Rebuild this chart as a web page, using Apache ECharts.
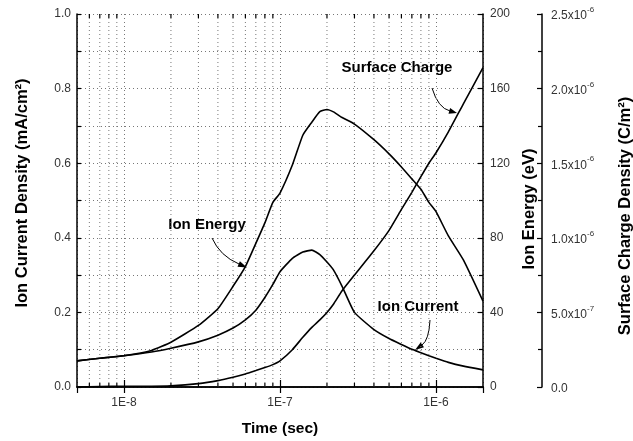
<!DOCTYPE html>
<html>
<head>
<meta charset="utf-8">
<script src="https://cdn.jsdelivr.net/npm/echarts@6/dist/echarts.min.js"></script>
<style>html,body{margin:0;padding:0;background:#fff}#c{width:633px;height:441px}</style>
</head>
<body>
<div id="c"></div>
<script>
// time points (s)
var times = [5e-9, 7e-9, 1e-8, 1.5e-8, 2e-8, 3e-8, 4e-8, 5e-8, 6e-8, 7e-8, 8e-8, 9e-8,
  1e-7, 1.2e-7, 1.4e-7, 1.6e-7, 1.8e-7, 2e-7, 2.2e-7, 2.5e-7, 3e-7, 4e-7, 5e-7, 6e-7,
  7e-7, 8e-7, 9e-7, 1e-6, 1.2e-6, 1.5e-6, 2e-6];
// Ion current density (mA/cm^2)
var ionCurrent = [0.070, 0.077, 0.084, 0.094, 0.104, 0.121, 0.139, 0.158, 0.180, 0.206, 0.240, 0.275,
  0.309, 0.345, 0.362, 0.367, 0.355, 0.335, 0.314, 0.270, 0.200, 0.154, 0.130, 0.114,
  0.101, 0.092, 0.084, 0.077, 0.066, 0.056, 0.046];
// Ion energy (eV)
var ionEnergy = [14, 15.4, 16.8, 19.6, 24, 33, 42, 54, 64.6, 77, 88, 99,
  104, 119, 135, 142, 147.6, 148.8, 147.5, 144.5, 141, 132.6, 125, 118,
  111.6, 106, 99, 94, 81, 68, 46];
// Surface charge density (C/m^2)
var surfaceCharge = [0, 2.5e-9, 5e-9, 5e-9, 7.5e-9, 2.25e-8, 4.25e-8, 6.5e-8, 8.75e-8, 1.1e-7, 1.3e-7, 1.5e-7,
  1.75e-7, 2.5e-7, 3.33e-7, 4.0e-7, 4.5e-7, 5.0e-7, 5.55e-7, 6.45e-7, 7.5e-7, 9.13e-7, 1.05e-6, 1.19e-6,
  1.305e-6, 1.41e-6, 1.5e-6, 1.57e-6, 1.71e-6, 1.9e-6, 2.14e-6];
// minor tick positions on the log time axis
var xMinorTicks = [6e-9, 7e-9, 8e-9, 9e-9, 2e-8, 3e-8, 4e-8, 5e-8, 6e-8, 7e-8, 8e-8, 9e-8,
  2e-7, 3e-7, 4e-7, 5e-7, 6e-7, 7e-7, 8e-7, 9e-7];

var FONT = "'Liberation Sans', Arial, sans-serif";
function pairs(xs, ys) { return xs.map(function (x, i) { return [x, ys[i]]; }); }

var chart = echarts.init(document.getElementById('c'), null, { renderer: 'canvas' });

var gridDot = { color: '#777', width: 1, type: [1, 3] };
var nameStyle = { color: '#000', fontFamily: FONT, fontSize: 16.5, fontWeight: 'bold' };

var option = {
  animation: false,
  backgroundColor: '#fff',
  grid: { left: 77, right: 150, top: 14, bottom: 54, containLabel: false, outerBoundsMode: 'none' },
  xAxis: [{
    type: 'log', logBase: 10, min: 5e-9, max: 2e-6, position: 'bottom',
    axisLine: { show: true, lineStyle: { color: '#000', width: 1.5 } },
    axisTick: { show: true, inside: true, length: 7, lineStyle: { color: '#000', width: 1.2 } },
    axisLabel: {
      show: true, margin: 10, showMinLabel: false, showMaxLabel: false,
      color: '#333', fontFamily: FONT, fontSize: 12,
      formatter: function (v) {
        var l = Math.log10(v), r = Math.round(l);
        return Math.abs(l - r) < 1e-6 ? '1E' + r : '';
      }
    },
    splitLine: { show: true, lineStyle: gridDot },
    name: 'Time (sec)', nameLocation: 'middle', nameGap: 34,
    nameTextStyle: { color: '#000', fontFamily: FONT, fontSize: 15.5, fontWeight: 'bold' }
  }, {
    type: 'log', logBase: 10, min: 5e-9, max: 2e-6, position: 'top',
    axisLine: { show: true, lineStyle: { color: '#000', width: 1.5 } },
    axisTick: { show: true, inside: true, length: 6, lineStyle: { color: '#000', width: 1.2 } },
    axisLabel: { show: false }, splitLine: { show: false }
  }],
  yAxis: [{
    type: 'value', position: 'left', min: 0, max: 1, interval: 0.2,
    axisLine: { show: true, lineStyle: { color: '#000', width: 1.5 } },
    axisTick: { show: true, inside: true, length: 4, lineStyle: { color: '#000', width: 1.2 } },
    minorTick: { show: true, splitNumber: 2, length: 4, lineStyle: { color: '#000', width: 1.2 } },
    axisLabel: { margin: 6, color: '#333', fontFamily: FONT, fontSize: 12,
      formatter: function (v) { return v.toFixed(1); } },
    splitLine: { show: true, lineStyle: gridDot },
    minorSplitLine: { show: true, lineStyle: gridDot },
    name: 'Ion Current Density (mA/cm\u00B2)', nameLocation: 'middle', nameGap: 46,
    nameTextStyle: Object.assign({ padding: [0, 0, 0, 15] }, nameStyle)
  }, {
    type: 'value', position: 'right', min: 0, max: 200, interval: 40,
    axisLine: { show: true, lineStyle: { color: '#000', width: 1.5 } },
    axisTick: { show: true, inside: true, length: 5, lineStyle: { color: '#000', width: 1.2 } },
    minorTick: { show: true, splitNumber: 2, length: 4, lineStyle: { color: '#000', width: 1.2 } },
    axisLabel: { margin: 7, color: '#333', fontFamily: FONT, fontSize: 12 },
    splitLine: { show: false },
    name: 'Ion Energy (eV)', nameLocation: 'middle', nameGap: 37,
    nameTextStyle: Object.assign({ padding: [0, 17, 0, 0] }, nameStyle)
  }, {
    type: 'value', position: 'right', offset: 59, min: 0, max: 2.5e-6, interval: 5e-7,
    axisLine: { show: true, lineStyle: { color: '#000', width: 1.5 } },
    axisTick: { show: true, inside: true, length: 5, lineStyle: { color: '#000', width: 1.2 } },
    minorTick: { show: true, splitNumber: 2, length: 4, lineStyle: { color: '#000', width: 1.2 } },
    axisLabel: {
      margin: 9, color: '#333', fontFamily: FONT, fontSize: 12,
      formatter: function (v) {
        if (v === 0) return '{m|0.0}';
        var e = Math.floor(Math.log10(v) + 1e-9);
        var m = v / Math.pow(10, e);
        return '{m|' + m.toFixed(1) + 'x10}{e|' + e + '}';
      },
      rich: {
        m: { fontSize: 12, fontFamily: FONT, color: '#333', lineHeight: 16, verticalAlign: 'bottom' },
        e: { fontSize: 8, fontFamily: FONT, color: '#333', verticalAlign: 'top' }
      }
    },
    splitLine: { show: false },
    name: 'Surface Charge Density (C/m\u00B2)', nameLocation: 'middle', nameGap: 75,
    nameTextStyle: Object.assign({ padding: [0, 31, 0, 0] }, nameStyle)
  }],
  series: [{
    type: 'custom', xAxisIndex: 0, yAxisIndex: 0, silent: true, z: 1,
    data: xMinorTicks.map(function (x) { return [x]; }),
    renderItem: function (params, api) {
      var b = api.coord([api.value(0), 0]);
      var t = api.coord([api.value(0), 1]);
      return { type: 'group', children: [
        { type: 'line', shape: { x1: b[0], y1: b[1], x2: t[0], y2: t[1] }, style: { stroke: '#777', lineWidth: 1, lineDash: [1, 3] } },
        { type: 'line', shape: { x1: b[0], y1: b[1], x2: b[0], y2: b[1] - 4 }, style: { stroke: '#000', lineWidth: 1.2 } },
        { type: 'line', shape: { x1: t[0], y1: t[1], x2: t[0], y2: t[1] + 4 }, style: { stroke: '#000', lineWidth: 1.2 } }
      ] };
    }
  }, {
    name: 'Ion Current', type: 'line', xAxisIndex: 0, yAxisIndex: 0, showSymbol: false, z: 5,
    smooth: 0.15,
    lineStyle: { color: '#000', width: 1.6 }, itemStyle: { color: '#000' },
    data: pairs(times, ionCurrent)
  }, {
    name: 'Ion Energy', type: 'line', xAxisIndex: 0, yAxisIndex: 1, showSymbol: false, z: 5,
    smooth: 0.15,
    lineStyle: { color: '#000', width: 1.6 }, itemStyle: { color: '#000' },
    data: pairs(times, ionEnergy)
  }, {
    name: 'Surface Charge', type: 'line', xAxisIndex: 0, yAxisIndex: 2, showSymbol: false, z: 5,
    smooth: 0.15,
    lineStyle: { color: '#000', width: 1.6 }, itemStyle: { color: '#000' },
    data: pairs(times, surfaceCharge)
  }],
  graphic: [
    { type: 'text', x: 397, y: 68, style: { text: 'Surface Charge', font: 'bold 15px ' + FONT, fill: '#000', align: 'center', verticalAlign: 'middle' } },
    { type: 'text', x: 207, y: 225, style: { text: 'Ion Energy', font: 'bold 15px ' + FONT, fill: '#000', align: 'center', verticalAlign: 'middle' } },
    { type: 'text', x: 418, y: 307, style: { text: 'Ion Current', font: 'bold 15px ' + FONT, fill: '#000', align: 'center', verticalAlign: 'middle' } },
    { type: 'bezierCurve', shape: { x1: 432, y1: 88, cpx1: 438, cpy1: 108, x2: 450, y2: 111 }, style: { stroke: '#000', lineWidth: 1, fill: null } },
    { type: 'polygon', shape: { points: [[457, 113], [448.5, 113.8], [450.1, 108.0]] }, style: { fill: '#000' } },
    { type: 'bezierCurve', shape: { x1: 212, y1: 238, cpx1: 220, cpy1: 256, x2: 239, y2: 264 }, style: { stroke: '#000', lineWidth: 1, fill: null } },
    { type: 'polygon', shape: { points: [[247, 267.5], [237.5, 266.8], [239.9, 261.2]] }, style: { fill: '#000' } },
    { type: 'bezierCurve', shape: { x1: 430, y1: 320, cpx1: 429, cpy1: 340, x2: 422, y2: 345 }, style: { stroke: '#000', lineWidth: 1, fill: null } },
    { type: 'polygon', shape: { points: [[415, 350], [420.6, 342.4], [424.0, 347.2]] }, style: { fill: '#000' } }
  ]
};
chart.setOption(option);
</script>
</body>
</html>
